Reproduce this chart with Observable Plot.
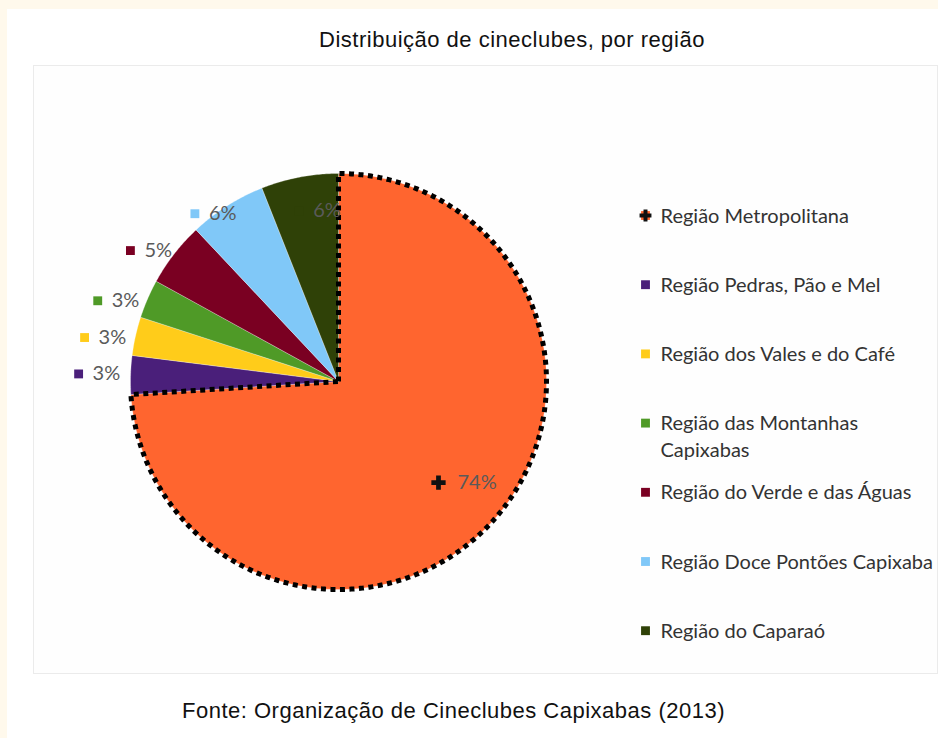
<!DOCTYPE html>
<html>
<head>
<meta charset="utf-8">
<script src="https://cdn.jsdelivr.net/npm/d3@7"></script>
<script src="https://cdn.jsdelivr.net/npm/@observablehq/plot@0.6"></script>
<style>
  html, body { margin: 0; padding: 0; }
  body { width: 938px; height: 738px; background: #FFF9EC; position: relative; overflow: hidden; }
  #panel { position: absolute; left: 7px; top: 9px; right: 0; bottom: 0; background: #ffffff; }
  #wrap { position: absolute; left: 0; top: 0; width: 938px; }
  #title { height: 60px; box-sizing: border-box; padding-top: 27px; padding-left: 86px; text-align: center;
           font-family: "Liberation Sans", Arial, sans-serif; font-size: 22px; letter-spacing: 0.5px; color: #111; line-height: 26px; white-space: nowrap; }
  #caption { height: 58px; box-sizing: border-box; padding-top: 18px; padding-right: 31px; text-align: center;
           font-family: "Liberation Sans", Arial, sans-serif; font-size: 22px; letter-spacing: 0.5px; color: #111; line-height: 26px; white-space: nowrap; }
  svg { display: block; }
</style>
</head>
<body>
<div id="panel"></div>
<div id="wrap">
  <div id="title">Distribuição de cineclubes, por região</div>
  <div id="chart"></div>
  <div id="caption">Fonte: Organização de Cineclubes Capixabas (2013)</div>
</div>
<script>
// ---- data ----
const regions = [
  "Região Metropolitana",
  "Região Pedras, Pão e Mel",
  "Região dos Vales e do Café",
  "Região das Montanhas Capixabas",
  "Região do Verde e das Águas",
  "Região Doce Pontões Capixaba",
  "Região do Caparaó"
];
const shares = [74, 3, 3, 3, 5, 6, 6];
const legendLabels = [
  "Região Metropolitana",
  "Região Pedras, Pão e Mel",
  "Região dos Vales e do Café",
  "Região das Montanhas\nCapixabas",
  "Região do Verde e das Águas",
  "Região Doce Pontões Capixaba",
  "Região do Caparaó"
];
// ---- styles ----
const colors = ["#FF652F", "#4A1F7A", "#FFCC1A", "#4F9A27", "#7A0022", "#80C8F8", "#2F4107"];
const labelRadius = [160, 241, 239, 236, 230, 209, 172];
const labelAngleShift = [-4, 0, -2, -3.4, -3.1, -4.2, 4]; // degrees

const W = 938, H = 620;
const cx = 338, cy = 321, R = 208;

const table = regions.map((region, i) => ({region, share: shares[i], color: colors[i], legend: legendLabels[i], i}));
const arcs = d3.pie().sort(null).value(d => d.share).startAngle(0).endAngle(2 * Math.PI)(table);

// slice outlines built from the pie angles
const slicePts = [];
arcs.forEach(a => {
  const r = a.data.region;
  slicePts.push({region: r, x: cx, y: cy});
  const n = Math.max(2, Math.ceil((a.endAngle - a.startAngle) / (Math.PI / 360)));
  for (let k = 0; k <= n; k++) {
    const t = a.startAngle + (a.endAngle - a.startAngle) * k / n;
    slicePts.push({region: r, x: cx + R * Math.sin(t), y: cy - R * Math.cos(t)});
  }
  slicePts.push({region: r, x: cx, y: cy});
});
const metroPts = slicePts.filter(d => d.region === regions[0]);

const labels = arcs.map(a => {
  const i = a.data.i;
  const m = (a.startAngle + a.endAngle) / 2 + labelAngleShift[i] * Math.PI / 180;
  const lr = labelRadius[i];
  return {
    region: a.data.region,
    text: a.data.share + "%",
    gx: cx + lr * Math.sin(m),
    gy: cy - lr * Math.cos(m),
    i
  };
});

const legendX = 645;
const legend = table.map((d, i) => ({...d, ly: 155 + i * 69.2}));

const fontCal = "Lato, 'Open Sans', sans-serif";
const plot = Plot.plot({
  width: W,
  height: H,
  marginLeft: 33, marginTop: 5, marginBottom: 7, marginRight: 1,
  x: {domain: [0, W], range: [0, W], axis: null},
  y: {domain: [0, H], range: [0, H], axis: null},
  color: {domain: regions, range: colors},
  style: {background: "transparent", overflow: "visible"},
  marks: [
    Plot.frame({stroke: "#ebebeb", fill: "#fefefe"}),
    Plot.line(slicePts, {x: "x", y: "y", z: "region", fill: "region", stroke: "#ffffff", strokeOpacity: 0.35, strokeWidth: 0.8, curve: "linear-closed"}),
    Plot.line(metroPts, {x: "x", y: "y", stroke: "#000000", strokeWidth: 5, strokeDasharray: "5 4.5", strokeLinecap: "butt", curve: "linear-closed"}),
    // slice label markers
    Plot.dot(labels.filter(d => d.i > 0), {x: d => d.gx - 19, y: "gy", fill: "region", symbol: "square", r: 5, stroke: null}),
    Plot.dot(labels.filter(d => d.i === 0), {x: d => d.gx - 24, y: "gy", fill: "#111", symbol: "cross", r: 6}),
    Plot.text(labels, {x: d => d.gx - 5, y: "gy", text: "text", textAnchor: "start", fill: "#5a5a5a",
      fontFamily: fontCal, fontSize: 20}),
    // legend
    Plot.dot(legend.filter(d => d.i > 0), {x: () => legendX, y: "ly", fill: "region", symbol: "square", r: 5, stroke: null}),
    Plot.dot(legend.filter(d => d.i === 0), {x: () => legendX, y: "ly", fill: "#FF652F", symbol: "square", r: 5}),
    Plot.dot(legend.filter(d => d.i === 0), {x: () => legendX, y: "ly", fill: "#111", symbol: "cross", r: 5}),
    Plot.text(legend, {x: () => legendX + 15, y: "ly", text: "legend", textAnchor: "start", lineAnchor: "top", dy: -12,
      lineHeight: 1.35, fill: "#333", fontFamily: fontCal, fontSize: 20})
  ]
});
document.getElementById("chart").appendChild(plot);
</script>
</body>
</html>
